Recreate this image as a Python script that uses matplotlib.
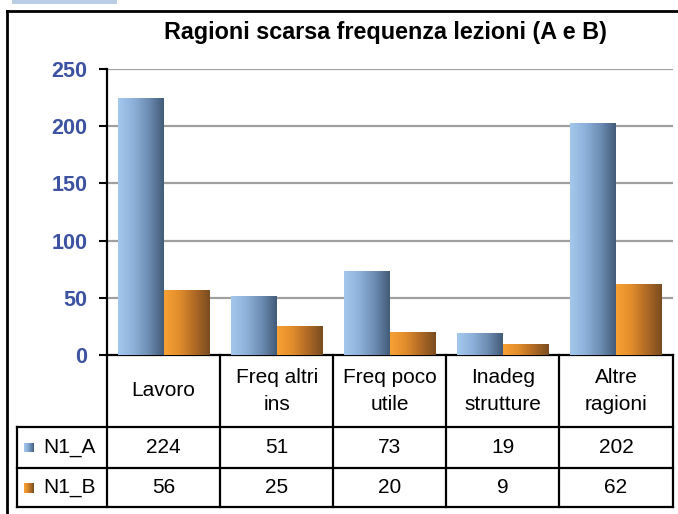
import numpy as np
import matplotlib
matplotlib.use("Agg")
import matplotlib.pyplot as plt
from matplotlib.colors import LinearSegmentedColormap
from matplotlib.patches import Rectangle
from matplotlib.lines import Line2D
import matplotlib.transforms as mtransforms

categories = ["Lavoro", "Freq altri\nins", "Freq poco\nutile", "Inadeg\nstrutture", "Altre\nragioni"]
series_names = ["N1_A", "N1_B"]
n1_a = [224, 51, 73, 19, 202]
n1_b = [56, 25, 20, 9, 62]
yticks = [0, 50, 100, 150, 200, 250]
title = "Ragioni scarsa frequenza lezioni (A e B)"

W, H = 678, 514
fig = plt.figure(figsize=(W / 100, H / 100), dpi=100)
fig.patch.set_facecolor("white")

def fx(px):
    return px / W

def fy(py):
    return 1 - py / H

ax_left, ax_right, ax_top, ax_bot = 107, 672.5, 69, 355
ax = fig.add_axes([fx(ax_left), fy(ax_bot), fx(ax_right - ax_left), (ax_bot - ax_top) / H])

cmap_a = LinearSegmentedColormap.from_list("a", ["#a4c8ec", "#8db1da", "#6d8db3", "#435c7a"])
cmap_b = LinearSegmentedColormap.from_list("b", ["#f7a033", "#e18d2c", "#b06a25", "#7a4c20"])
grad = np.linspace(0, 1, 64).reshape(1, -1)

bw = 0.405
x = np.arange(len(categories))
for vals, cmap, off in [(n1_a, cmap_a, -bw / 2), (n1_b, cmap_b, bw / 2)]:
    bars = ax.bar(x + off, vals, width=bw, color="none", edgecolor="none", zorder=3)
    for b in bars:
        x0, w, h = b.get_x(), b.get_width(), b.get_height()
        ax.imshow(grad, cmap=cmap, extent=(x0, x0 + w, 0, h), aspect="auto", zorder=3, interpolation="bilinear")

ax.set_xlim(-0.5, len(categories) - 0.5)
ax.set_ylim(0, 250)
ax.set_yticks(yticks)
ax.set_yticklabels([str(t) for t in yticks], fontsize=15.5, fontweight="bold", color="#3d52a1",
                   family=["Liberation Sans", "DejaVu Sans"])
ax.tick_params(axis="y", direction="out", length=6, width=1.5, pad=8, color="black")
ax.tick_params(axis="x", bottom=False, labelbottom=False)
for t in yticks[1:]:
    ax.axhline(t, color="#a0a0a0", lw=1.6, zorder=1)
for s in ["top", "right"]:
    ax.spines[s].set_visible(False)
ax.spines["left"].set_linewidth(1.6)
ax.spines["bottom"].set_linewidth(1.6)
ax.set_facecolor("none")

# title
fig.text(fx(385), fy(33), title, ha="center", va="center", fontsize=16.8, fontweight="bold",
         family=["Liberation Sans", "DejaVu Sans"])

# data table below axes: x in data coords, y in figure fraction
tr = mtransforms.blended_transform_factory(ax.transData, fig.transFigure)
row_y = [355, 427, 468, 507]
px_per_unit = (ax_right - ax_left) / len(categories)
leg_left = -0.5 - (ax_left - 17) / px_per_unit
lw = 1.6
for yy in row_y[1:]:
    fig.add_artist(Line2D([leg_left, len(categories) - 0.5], [fy(yy), fy(yy)], transform=tr, color="black", lw=lw))
for k in range(len(categories) + 1):
    xb = k - 0.5
    fig.add_artist(Line2D([xb, xb], [fy(row_y[0]), fy(row_y[-1])], transform=tr, color="black", lw=lw))
fig.add_artist(Line2D([leg_left, leg_left], [fy(row_y[1]), fy(row_y[-1])], transform=tr, color="black", lw=lw))

tfont = dict(fontsize=15, family=["Liberation Sans", "DejaVu Sans"])
for i, c in enumerate(categories):
    fig.text(i, fy((row_y[0] + row_y[1]) / 2), c, transform=tr, ha="center", va="center",
             linespacing=1.55, **tfont)
for r, (name, vals, cmap) in enumerate([(series_names[0], n1_a, cmap_a), (series_names[1], n1_b, cmap_b)]):
    yc = (row_y[r + 1] + row_y[r + 2]) / 2
    for i, v in enumerate(vals):
        fig.text(i, fy(yc), str(v), transform=tr, ha="center", va="center", **tfont)
    kax = fig.add_axes([fx(24), fy(yc + 5), fx(10), 10 / H])
    kax.imshow(grad, cmap=cmap, aspect="auto", extent=(0, 1, 0, 1), interpolation="bilinear")
    kax.set_axis_off()
    fig.text(fx(43), fy(yc), name, ha="left", va="center", **tfont)

# outer frame (extends past right/bottom edges)
fig.add_artist(Line2D([fx(7), fx(7)], [fy(11), fy(520)], transform=fig.transFigure, color="black", lw=2))
fig.add_artist(Line2D([fx(7), fx(690)], [fy(11), fy(11)], transform=fig.transFigure, color="black", lw=2))
# small tab above frame
fig.add_artist(Rectangle((fx(12), fy(4)), fx(105), 6 / H, transform=fig.transFigure,
                         facecolor="#b9cde5", edgecolor="none"))

fig.savefig("out.png", dpi=100)
